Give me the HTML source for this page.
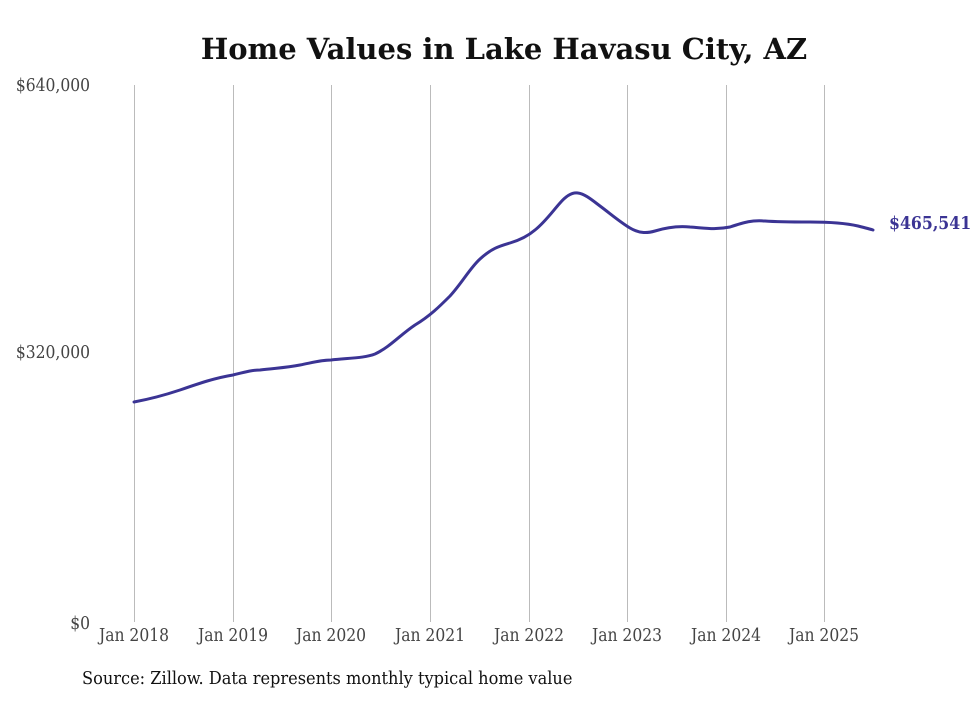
<!DOCTYPE html>
<html><head><style>
body{margin:0;background:#fff;}
svg text{font-family:"DejaVu Serif","Liberation Serif",serif;font-stretch:condensed;}
svg text.t{font-stretch:normal;}
</style></head><body>
<svg width="980" height="699" viewBox="0 0 980 699" xmlns="http://www.w3.org/2000/svg">
<rect width="980" height="699" fill="#fff"/>
<text class="t" x="504" y="59" text-anchor="middle" font-size="29" font-weight="bold" fill="#111">Home Values in Lake Havasu City, AZ</text>
<g stroke="#bbb" stroke-width="1">
<line x1="134.5" y1="85" x2="134.5" y2="622"/>
<line x1="233.5" y1="85" x2="233.5" y2="622"/>
<line x1="331.5" y1="85" x2="331.5" y2="622"/>
<line x1="430.5" y1="85" x2="430.5" y2="622"/>
<line x1="529.5" y1="85" x2="529.5" y2="622"/>
<line x1="627.5" y1="85" x2="627.5" y2="622"/>
<line x1="726.5" y1="85" x2="726.5" y2="622"/>
<line x1="824.5" y1="85" x2="824.5" y2="622"/>
</g>
<g font-size="17.3" fill="#444">
<text x="90" y="91" text-anchor="end">$640,000</text>
<text x="90" y="358" text-anchor="end">$320,000</text>
<text x="90" y="629" text-anchor="end">$0</text>
<g text-anchor="middle">
<text x="134" y="641">Jan 2018</text>
<text x="233" y="641">Jan 2019</text>
<text x="331" y="641">Jan 2020</text>
<text x="430" y="641">Jan 2021</text>
<text x="529" y="641">Jan 2022</text>
<text x="627" y="641">Jan 2023</text>
<text x="726" y="641">Jan 2024</text>
<text x="824" y="641">Jan 2025</text>
</g>
</g>
<text x="82" y="684" font-size="18" fill="#111">Source: Zillow. Data represents monthly typical home value</text>
<path fill="none" stroke="#3b3494" stroke-width="3" stroke-linejoin="round" stroke-linecap="round"
d="M134,402 C150,399 165,395 180,390 C200,383 215,378 233,375 C245,372 252,370 260,370 C275,368 285,368 300,365 C315,362 322,360 331,360 C350,358 365,358 375,354 C390,347 400,335 415,325 C430,316 440,306 450,296 C462,283 470,268 480,259 C492,248 500,246 510,243 C520,240 528,236 535,230 C545,222 552,212 560,203 C566,196 572,192 578,193 C585,194 592,200 600,206 C612,215 620,222 630,228 C640,234 648,233 655,231 C668,227 680,226 690,227 C705,228 715,230 730,227 C745,222 752,220 765,221 C778,222 790,222 810,222 C830,222 845,223 858,226 C866,228 870,229 873,230"/>
<text x="889" y="229" font-size="17.5" font-weight="bold" fill="#3b3494">$465,541</text>
</svg>
</body></html>
